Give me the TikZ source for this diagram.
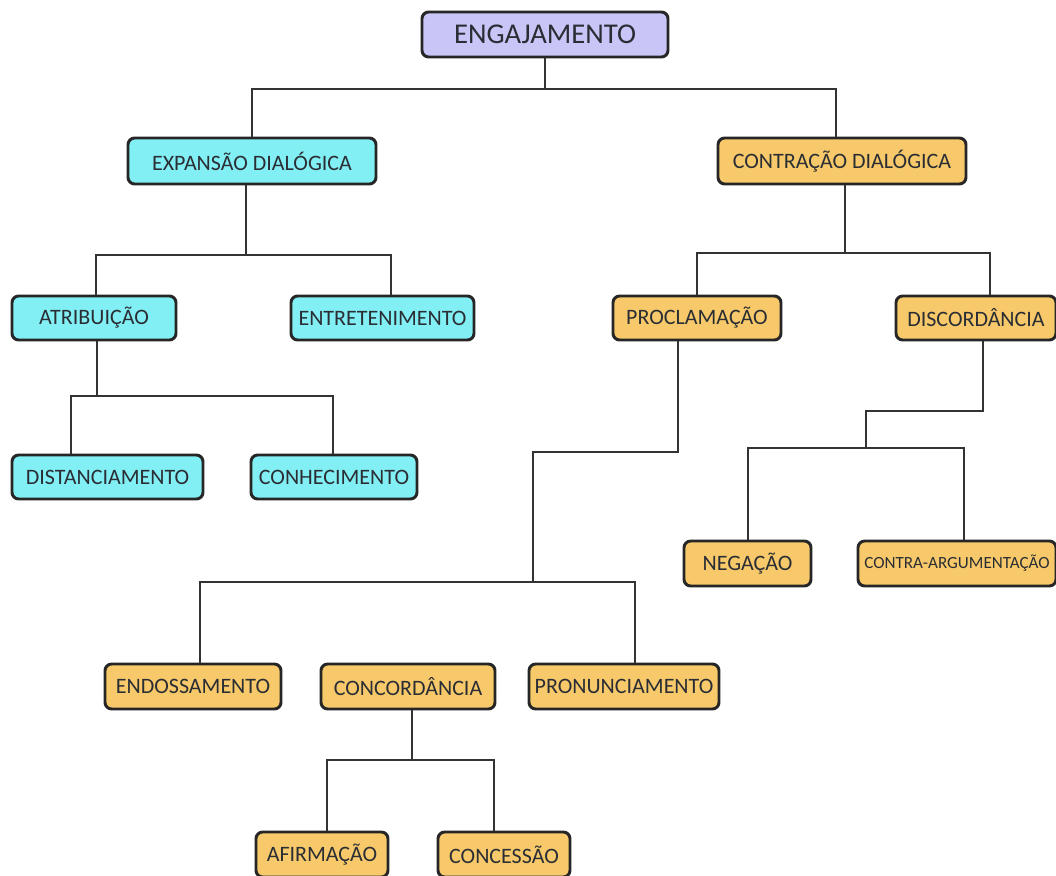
\documentclass[tikz,border=0pt]{standalone}
\usepackage{fontspec}
\setmainfont{Carlito}
\usetikzlibrary{calc}
\definecolor{boxline}{HTML}{262626}
\definecolor{linecol}{HTML}{333333}
\definecolor{txt}{HTML}{2A2E34}
\definecolor{lavender}{HTML}{C9C5F7}
\definecolor{aqua}{HTML}{82EFF4}
\definecolor{amber}{HTML}{F8C96A}
\begin{document}
\begin{tikzpicture}[x=0.75pt,y=-0.75pt,
  box/.style={draw=boxline, line width=2.2pt, rounded corners=5pt, inner sep=0pt,
    text=txt, font=\fontsize{16.5}{18}\selectfont},
  sz/.style 2 args={minimum width=#1*0.75pt, minimum height=#2*0.75pt},
  rootbox/.style={box, fill=lavender, font=\fontsize{21.5}{24}\selectfont},
  expbox/.style={box, fill=aqua},
  conbox/.style={box, fill=amber},
  link/.style={draw=linecol, line width=1.5pt}]
\fill[white] (0,0) rectangle (1056,875);
\useasboundingbox (0,0) rectangle (1056,875);
\clip (0,0) rectangle (1056,875);

% root
\node[rootbox, sz={246}{45}] (eng) at (545,34.5) {ENGAJAMENTO};

% dialogic expansion branch
\node[expbox, sz={248}{46}] (exp) at (252,161) {EXPANSÃO DIALÓGICA};
\node[expbox, sz={164}{44}] (atr) at (94,318) {ATRIBUIÇÃO};
\node[expbox, sz={183}{44}] (ent) at (382.5,318) {ENTRETENIMENTO};
\node[expbox, sz={191}{44}] (dst) at (107.5,477) {DISTANCIAMENTO};
\node[expbox, sz={166}{44}] (cnh) at (334,477) {CONHECIMENTO};

% dialogic contraction branch
\node[conbox, sz={248}{46}] (con) at (842,161) {CONTRAÇÃO DIALÓGICA};
\node[conbox, sz={168}{44}] (pro) at (697,318) {PROCLAMAÇÃO};
\node[conbox, sz={160}{44}] (dis) at (976,318) {DISCORDÂNCIA};
\node[conbox, sz={127}{45}] (neg) at (747.5,563.5) {NEGAÇÃO};
\node[conbox, sz={198}{45}, font=\fontsize{12.8}{14}\selectfont] (car) at (957,563.5) {CONTRA-ARGUMENTAÇÃO};
\node[conbox, sz={176}{45}] (end) at (193,686.5) {ENDOSSAMENTO};
\node[conbox, sz={174}{45}] (ccd) at (408,686.5) {CONCORDÂNCIA};
\node[conbox, sz={190}{45}] (prn) at (624,686.5) {PRONUNCIAMENTO};
\node[conbox, sz={132}{45}] (afi) at (322,854.5) {AFIRMAÇÃO};
\node[conbox, sz={132}{45}] (ccs) at (504,854.5) {CONCESSÃO};

% connectors: each parent drops to a junction, then a bar feeds its children
\draw[link] (eng.south) -- ++(0,31) coordinate (j0);
\draw[link] (exp.north) |- (j0) -| ($(con.north)+(-6,0)$);

\draw[link] ($(exp.south)+(-6,0)$) -- ++(0,70) coordinate (j1);
\draw[link] ($(atr.north)+(2,0)$) |- (j1) -| ($(ent.north)+(8.5,0)$);

\draw[link] ($(atr.south)+(3,0)$) -- ++(0,55) coordinate (j2);
\draw[link] ($(dst.north)+(-36.5,0)$) |- (j2) -| ($(cnh.north)+(-1,0)$);

\draw[link] ($(con.south)+(3,0)$) -- ++(0,68) coordinate (j3);
\draw[link] (pro.north) |- (j3) -| ($(dis.north)+(14,0)$);

\draw[link] ($(pro.south)+(-19,0)$) -- ++(0,111) -- ++(-145,0) -- ++(0,130) coordinate (j4);
\draw[link] ($(end.north)+(7,0)$) |- (j4) -| ($(prn.north)+(11,0)$);
\draw[link] ($(ccd.north)+(14,0)$) -- ($(ccd.north)+(14,0)$ |- j4);

\draw[link] ($(ccd.south)+(4,0)$) -- ++(0,50) coordinate (j5);
\draw[link] ($(afi.north)+(5,0)$) |- (j5) -| ($(ccs.north)+(-10,0)$);

\draw[link] ($(dis.south)+(7,0)$) -- ++(0,70) -- ++(-117,0) -- ++(0,37) coordinate (j6);
\draw[link] (neg.north) |- (j6) -| ($(car.north)+(7,0)$);
\end{tikzpicture}
\end{document}
